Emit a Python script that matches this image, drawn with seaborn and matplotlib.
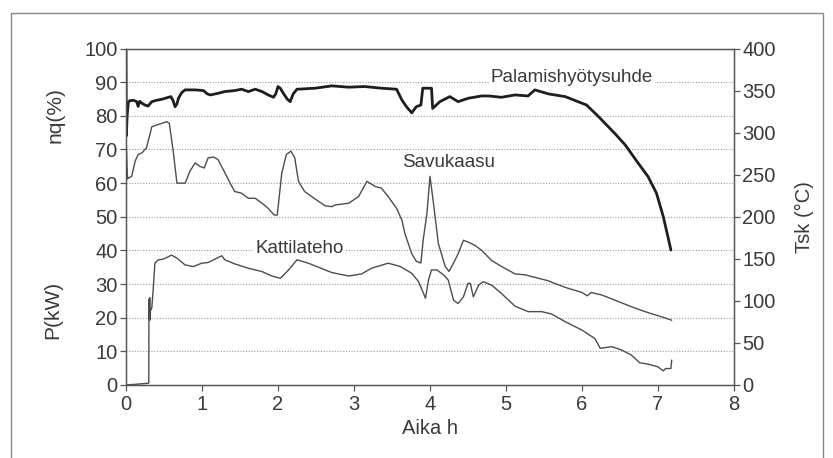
import matplotlib
matplotlib.use("Agg")
import matplotlib.pyplot as plt
from matplotlib.patches import Rectangle
import pandas as pd
import seaborn as sns

# Palamishyötysuhde (%), left axis
eff_t = [0.0, 0.004, 0.015, 0.03, 0.05, 0.10, 0.14, 0.16, 0.18, 0.205, 0.25, 0.29,
         0.34, 0.40, 0.47, 0.56, 0.59, 0.62, 0.645, 0.67, 0.69, 0.73, 0.776, 0.91,
         1.02, 1.07, 1.11, 1.215, 1.30, 1.43, 1.52, 1.61, 1.70, 1.79, 1.87, 1.94,
         1.97, 2.0, 2.03, 2.07, 2.12, 2.16, 2.2, 2.25, 2.49, 2.71, 2.93, 3.14, 3.36,
         3.56, 3.63, 3.69, 3.76, 3.82, 3.88, 3.905, 4.02, 4.035, 4.13, 4.26, 4.37,
         4.50, 4.68, 4.77, 4.94, 5.12, 5.29, 5.38, 5.56, 5.78, 6.06, 6.22, 6.43,
         6.57, 6.74, 6.87, 6.98, 7.07, 7.14, 7.17]
eff_v = [100, 74, 80, 84, 84.5, 84.6, 84.2, 82.8, 84.3, 83.8, 83.2, 82.9,
         84.2, 84.6, 84.9, 85.5, 85.7, 84.5, 82.7, 83.5, 85.2, 86.8, 87.7, 87.7,
         87.5, 86.5, 86.2, 86.7, 87.2, 87.5, 87.9, 87.2, 87.9, 87.2, 86.2, 85.5,
         86.5, 88.7, 88.2, 86.7, 85.0, 84.2, 86.5, 87.9, 88.2, 88.9, 88.5, 88.7, 88.2,
         87.9, 84.7, 82.7, 80.9, 82.7, 83.2, 88.2, 88.2, 82.2, 84.2, 85.7, 84.2,
         85.2, 85.9, 85.9, 85.5, 86.2, 85.9, 87.7, 86.5, 85.7, 83.2, 79.7, 74.8,
         71.3, 65.9, 61.9, 57.0, 50.0, 43.1, 40.1]

# Savukaasu (°C), right axis
gas_t = [0.0, 0.02, 0.03, 0.075, 0.12, 0.16, 0.21, 0.27, 0.34, 0.40, 0.47, 0.535,
         0.57, 0.62, 0.67, 0.71, 0.78, 0.84, 0.91, 0.97, 1.03, 1.08, 1.15, 1.21,
         1.28, 1.37, 1.43, 1.52, 1.61, 1.70, 1.79, 1.87, 1.95, 1.99, 2.05, 2.11,
         2.17, 2.22, 2.27, 2.35, 2.49, 2.62, 2.71, 2.75, 2.93, 3.06, 3.17, 3.28,
         3.36, 3.45, 3.56, 3.63, 3.67, 3.76, 3.82, 3.88, 3.91, 3.96, 4.0, 4.04,
         4.11, 4.20, 4.25, 4.31, 4.37, 4.44, 4.50, 4.59, 4.68, 4.81, 4.94, 5.12,
         5.25, 5.38, 5.55, 5.78, 6.0, 6.07, 6.12, 6.26, 6.43, 6.65, 6.87, 7.05, 7.18]
gas_v = [296, 245, 246, 248, 266, 274, 276, 282, 307, 309, 311, 313,
         311, 279, 240, 240, 240, 254, 264, 260, 258, 270, 271, 268,
         256, 240, 230, 228, 222, 222, 216, 210, 202, 202, 252, 274,
         278, 270, 242, 230, 221, 213, 212, 214, 216, 224, 242, 236,
         234, 224, 210, 196, 180, 156, 147, 145, 172, 204, 248, 220,
         168, 141, 135, 145, 156, 172, 170, 166, 160, 148, 141, 132,
         131, 128, 124, 116, 110, 106, 110, 107, 101, 93, 86, 81, 77]

# Kattilateho (kW), left axis
pow_t = [0.0, 0.29, 0.30, 0.302, 0.307, 0.312, 0.317, 0.322, 0.34, 0.36, 0.38,
         0.425, 0.49, 0.60, 0.67, 0.776, 0.886, 0.996, 1.08, 1.17, 1.26, 1.30,
         1.43, 1.61, 1.79, 1.92, 2.03, 2.14, 2.25, 2.40, 2.62, 2.71, 2.93, 3.10,
         3.23, 3.45, 3.61, 3.76, 3.85, 3.94, 3.98, 4.02, 4.09, 4.18, 4.24, 4.31,
         4.37, 4.44, 4.50, 4.53, 4.57, 4.64, 4.70, 4.81, 4.94, 5.12, 5.25, 5.29,
         5.47, 5.60, 5.78, 6.0, 6.17, 6.24, 6.39, 6.52, 6.65, 6.76, 6.87, 7.00,
         7.07, 7.10, 7.17, 7.18]
pow_v = [0.0, 0.5, 0.6, 25.5, 19.5, 26.0, 19.3, 22.0, 23.0, 29.2, 36.2,
         37.2, 37.4, 38.6, 37.7, 35.7, 35.2, 36.2, 36.4, 37.4, 38.4, 37.2,
         36.0, 34.7, 33.7, 32.4, 31.7, 34.2, 37.2, 36.2, 34.2, 33.4, 32.4, 33.0,
         34.7, 36.2, 35.2, 33.2, 30.7, 25.8, 31.2, 34.2, 34.2, 32.7, 31.2, 25.2,
         24.2, 26.2, 30.2, 30.2, 26.2, 29.7, 30.7, 29.7, 27.2, 23.4, 22.2, 21.8,
         21.8, 21.1, 18.8, 16.3, 13.8, 10.9, 11.4, 10.4, 8.9, 6.6, 6.2, 5.4,
         4.2, 4.9, 4.9, 7.4]

left_ticks = list(range(0, 101, 10))
right_ticks = list(range(0, 401, 50))
x_ticks = list(range(0, 9))

sns.set_theme(style="white")
plt.rcParams["font.family"] = ["Liberation Sans", "DejaVu Sans"]

text_col = "#3a3a3a"
axis_col = "#555555"

fig = plt.figure(figsize=(8.33, 4.58), dpi=100)
# outer frame of the figure panel
fig.patches.append(Rectangle((11 / 833, -0.05), (823 - 11) / 833, 1.05 - 13 / 458,
                             transform=fig.transFigure, fill=False,
                             edgecolor="#888888", linewidth=1.0))
ax = fig.add_axes([126 / 833, 1 - 385 / 458, (734 - 126) / 833, (385 - 48.5) / 458])
ax2 = ax.twinx()

eff_df = pd.DataFrame({"t": eff_t, "v": eff_v})
gas_df = pd.DataFrame({"t": gas_t, "v": gas_v})
pow_df = pd.DataFrame({"t": pow_t, "v": pow_v})

for y in left_ticks[1:-1]:
    ax.axhline(y, color="#9a9a9a", linestyle=(0, (1, 1.5)), linewidth=0.8, zorder=0)

sns.lineplot(data=pow_df, x="t", y="v", ax=ax, estimator=None, sort=False,
             color="#4d4d4d", linewidth=1.0)
sns.lineplot(data=eff_df, x="t", y="v", ax=ax, estimator=None, sort=False,
             color="#1e1e1e", linewidth=2.0)
sns.lineplot(data=gas_df, x="t", y="v", ax=ax2, estimator=None, sort=False,
             color="#4d4d4d", linewidth=1.0)

ax.set_xlim(0, 8)
ax.set_ylim(0, 100)
ax2.set_ylim(0, 400)
ax.set_xticks(x_ticks)
ax.set_yticks(left_ticks)
ax2.set_yticks(right_ticks)

for a in (ax, ax2):
    for s in a.spines.values():
        s.set_color(axis_col)
        s.set_linewidth(0.9)
    a.tick_params(axis="both", colors=axis_col, labelcolor=text_col,
                  labelsize=14.5, length=4, width=0.9, pad=2)
ax.tick_params(axis="x", direction="out", bottom=True, pad=3)
ax.tick_params(axis="y", direction="out", left=True)
ax2.tick_params(axis="y", direction="out", right=True)

ax.set_xlabel("Aika h", fontsize=14.5, color=text_col, labelpad=4)
ax.set_ylabel("")
ax2.set_ylabel("Tsk (°C)", fontsize=14.5, color=text_col, labelpad=14)

fig.text(55 / 833, 1 - 115 / 458, "nq(%)", rotation=90, ha="center", va="center",
         fontsize=15, color=text_col)
fig.text(53 / 833, 1 - 310 / 458, "P(kW)", rotation=90, ha="center", va="center",
         fontsize=15, color=text_col)

box = dict(facecolor="white", edgecolor="none", pad=1.5)
ax.text(5.87, 91.5, "Palamishyötysuhde", ha="center", va="center",
        fontsize=13.5, color=text_col, bbox=box, zorder=3)
ax.text(4.25, 66.0, "Savukaasu", ha="center", va="center",
        fontsize=13.5, color=text_col, bbox=box, zorder=3)
ax.text(2.29, 40.7, "Kattilateho", ha="center", va="center",
        fontsize=13.5, color=text_col, bbox=box, zorder=3)

fig.savefig("out.png", dpi=100)
